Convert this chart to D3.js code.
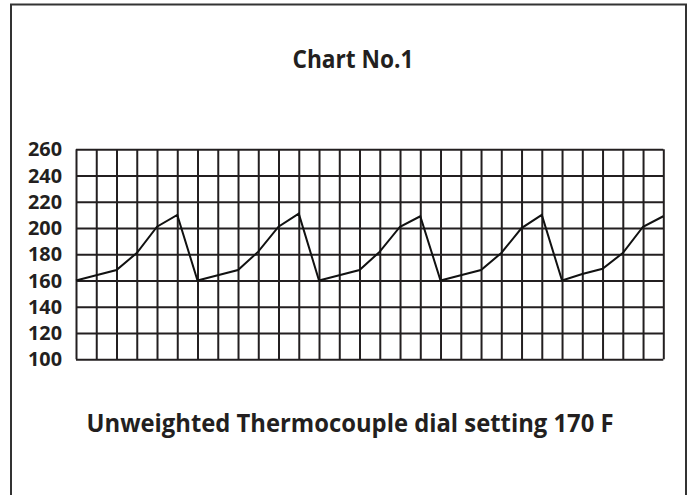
<!DOCTYPE html>
<html>
<head>
<meta charset="utf-8">
<script src="https://cdn.jsdelivr.net/npm/d3@7"></script>
<style>
  body { margin: 0; background: #fff; }
  svg text { font-family: "Open Sans", "Noto Sans", sans-serif; font-weight: bold; fill: #231f20; }
</style>
</head>
<body>
<svg id="chart"></svg>
<script>
const chartTitle = "Chart No.1";
const chartCaption = "Unweighted Thermocouple dial setting 170 F";

// temperature readings, one per grid column line
const readings = [160, 164, 168, 181, 201, 210,
                  160, 164, 168, 182, 201, 211,
                  160, 164, 168, 182, 201, 209,
                  160, 164, 168, 181, 200, 210,
                  160, 165, 169, 181, 201, 209];
const yTicks = [100, 120, 140, 160, 180, 200, 220, 240, 260];

const totalWidth = 689, totalHeight = 495;
const plot = { left: 76, right: 663.3, top: 149.3, bottom: 359.3 };

const svg = d3.select("#chart")
  .attr("width", totalWidth)
  .attr("height", totalHeight);

// outer frame (open at the bottom, runs off the picture)
svg.append("rect")
  .attr("x", 11).attr("y", 4.5)
  .attr("width", 675).attr("height", 600)
  .attr("fill", "none")
  .attr("stroke", "#333")
  .attr("stroke-width", 2);

const x = d3.scaleLinear()
  .domain([0, readings.length - 1])
  .range([plot.left, plot.right]);

const y = d3.scaleLinear()
  .domain([d3.min(yTicks), d3.max(yTicks)])
  .range([plot.bottom, plot.top]);

// horizontal grid + labels
const yAxis = d3.axisLeft(y)
  .tickValues(yTicks)
  .tickSize(-(plot.right - plot.left))
  .tickPadding(14)
  .tickFormat(d3.format("d"));

const gy = svg.append("g")
  .attr("transform", "translate(" + plot.left + ",0)")
  .call(yAxis);
gy.select(".domain").remove();
gy.selectAll(".tick line").attr("stroke", "#231f20").attr("stroke-width", 2);
gy.selectAll(".tick text")
  .attr("font-size", 19)
  .attr("font-family", null)
  .attr("textLength", 34)
  .attr("lengthAdjust", "spacingAndGlyphs")
  .attr("dy", "0.34em");

// vertical grid
const xAxis = d3.axisBottom(x)
  .tickValues(d3.range(readings.length))
  .tickSize(-(plot.bottom - plot.top))
  .tickFormat("");

const gx = svg.append("g")
  .attr("transform", "translate(0," + plot.bottom + ")")
  .call(xAxis);
gx.select(".domain").remove();
gx.selectAll(".tick line").attr("stroke", "#231f20").attr("stroke-width", 2);

// the reading line
const line = d3.line()
  .x((d, i) => x(i))
  .y(d => y(d));

svg.append("path")
  .datum(readings)
  .attr("d", line)
  .attr("fill", "none")
  .attr("stroke", "#111")
  .attr("stroke-width", 2)
  .attr("stroke-linejoin", "miter");

// title and caption
svg.append("text")
  .attr("x", 353).attr("y", 68)
  .attr("text-anchor", "middle")
  .attr("font-size", 25)
  .attr("font-weight", 800)
  .attr("textLength", 121)
  .attr("lengthAdjust", "spacingAndGlyphs")
  .text(chartTitle);

svg.append("text")
  .attr("x", 350).attr("y", 432)
  .attr("text-anchor", "middle")
  .attr("font-size", 25)
  .attr("font-weight", 800)
  .attr("textLength", 527)
  .attr("lengthAdjust", "spacingAndGlyphs")
  .text(chartCaption);
</script>
</body>
</html>
